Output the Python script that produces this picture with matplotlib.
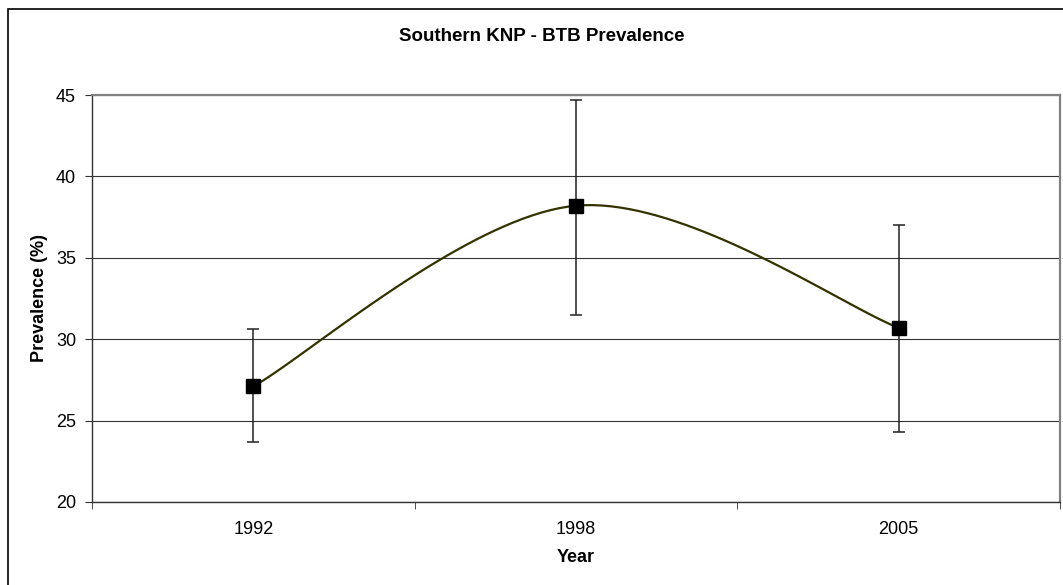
import numpy as np
import matplotlib
matplotlib.use("Agg")
import matplotlib.pyplot as plt
from matplotlib.patches import Rectangle

plt.rcParams['font.family'] = ['Liberation Sans', 'DejaVu Sans']

years = ["1992", "1998", "2005"]
prevalence = [27.1, 38.2, 30.7]
err_low = [23.7, 31.5, 24.3]
err_high = [30.6, 44.7, 37.0]
y_ticks = [20, 25, 30, 35, 40, 45]

x = np.arange(len(years), dtype=float)
y = np.array(prevalence)

# Excel-style smoothed line (Catmull-Rom Bezier)
def smooth(px, py, n=40):
    P = np.column_stack([px, py])
    P_ext = np.vstack([P[0], P, P[-1]])
    out = []
    for i in range(len(P) - 1):
        p0, p1, p2, p3 = P_ext[i], P_ext[i + 1], P_ext[i + 2], P_ext[i + 3]
        c1 = p1 + (p2 - p0) / 6.0
        c2 = p2 - (p3 - p1) / 6.0
        t = np.linspace(0, 1, n)[:, None]
        seg = ((1 - t) ** 3) * p1 + 3 * ((1 - t) ** 2) * t * c1 + 3 * (1 - t) * t ** 2 * c2 + t ** 3 * p2
        out.append(seg if i == 0 else seg[1:])
    s = np.vstack(out)
    return s[:, 0], s[:, 1]

W, H = 1063, 585
fig = plt.figure(figsize=(W / 100, H / 100), dpi=100)
fig.patches.append(Rectangle((8 / W, -0.1), 1.2, (H - 9) / H + 0.1,
                             transform=fig.transFigure, fill=False,
                             edgecolor='black', linewidth=1.2))
ax = fig.add_axes([92 / W, (H - 502) / H, 968 / W, 407 / H])

sx, sy = smooth(x, y)
ax.plot(sx, sy, color='#333300', linewidth=1.6, zorder=3)
yerr = np.array([y - np.array(err_low), np.array(err_high) - y])
ax.errorbar(x, y, yerr=yerr, fmt='none', ecolor='#222222', elinewidth=1.1,
            capsize=4, capthick=1.1, zorder=2)
ax.plot(x, y, linestyle='none', marker='s', markersize=9.5,
        markerfacecolor='black', markeredgecolor='black', zorder=4)

ax.set_xlim(-0.5, len(years) - 0.5)
ax.set_ylim(20, 45)
ax.set_yticks(y_ticks)
ax.set_yticklabels([str(v) for v in y_ticks], fontsize=13)
ax.set_xticks(x)
ax.set_xticklabels(years, fontsize=13)
ax.tick_params(axis='x', which='major', length=0, pad=14)
ax.set_xticks(np.arange(-0.5, len(years), 1.0), minor=True)
ax.tick_params(axis='x', which='minor', direction='out', length=5, color='#333333')
ax.tick_params(axis='y', direction='out', length=5, color='#333333', pad=6.5)
ax.grid(axis='y', color='#333333', linewidth=0.8)
ax.set_axisbelow(True)

for side in ['top', 'right']:
    ax.spines[side].set_color('#808080')
    ax.spines[side].set_linewidth(1.6)
for side in ['left', 'bottom']:
    ax.spines[side].set_color('#333333')
    ax.spines[side].set_linewidth(1.0)

fig.text(541.5 / W, 1 - 36.5 / H, "Southern KNP - BTB Prevalence", fontsize=13.5,
         fontweight='bold', ha='center', va='center')
fig.text(576 / W, 1 - 558 / H, "Year", fontsize=13, fontweight='bold',
         ha='center', va='center')
fig.text(39.5 / W, 1 - 298.5 / H, "Prevalence (%)", fontsize=13, fontweight='bold',
         ha='center', va='center', rotation=90)

fig.savefig("out.png", dpi=100)
